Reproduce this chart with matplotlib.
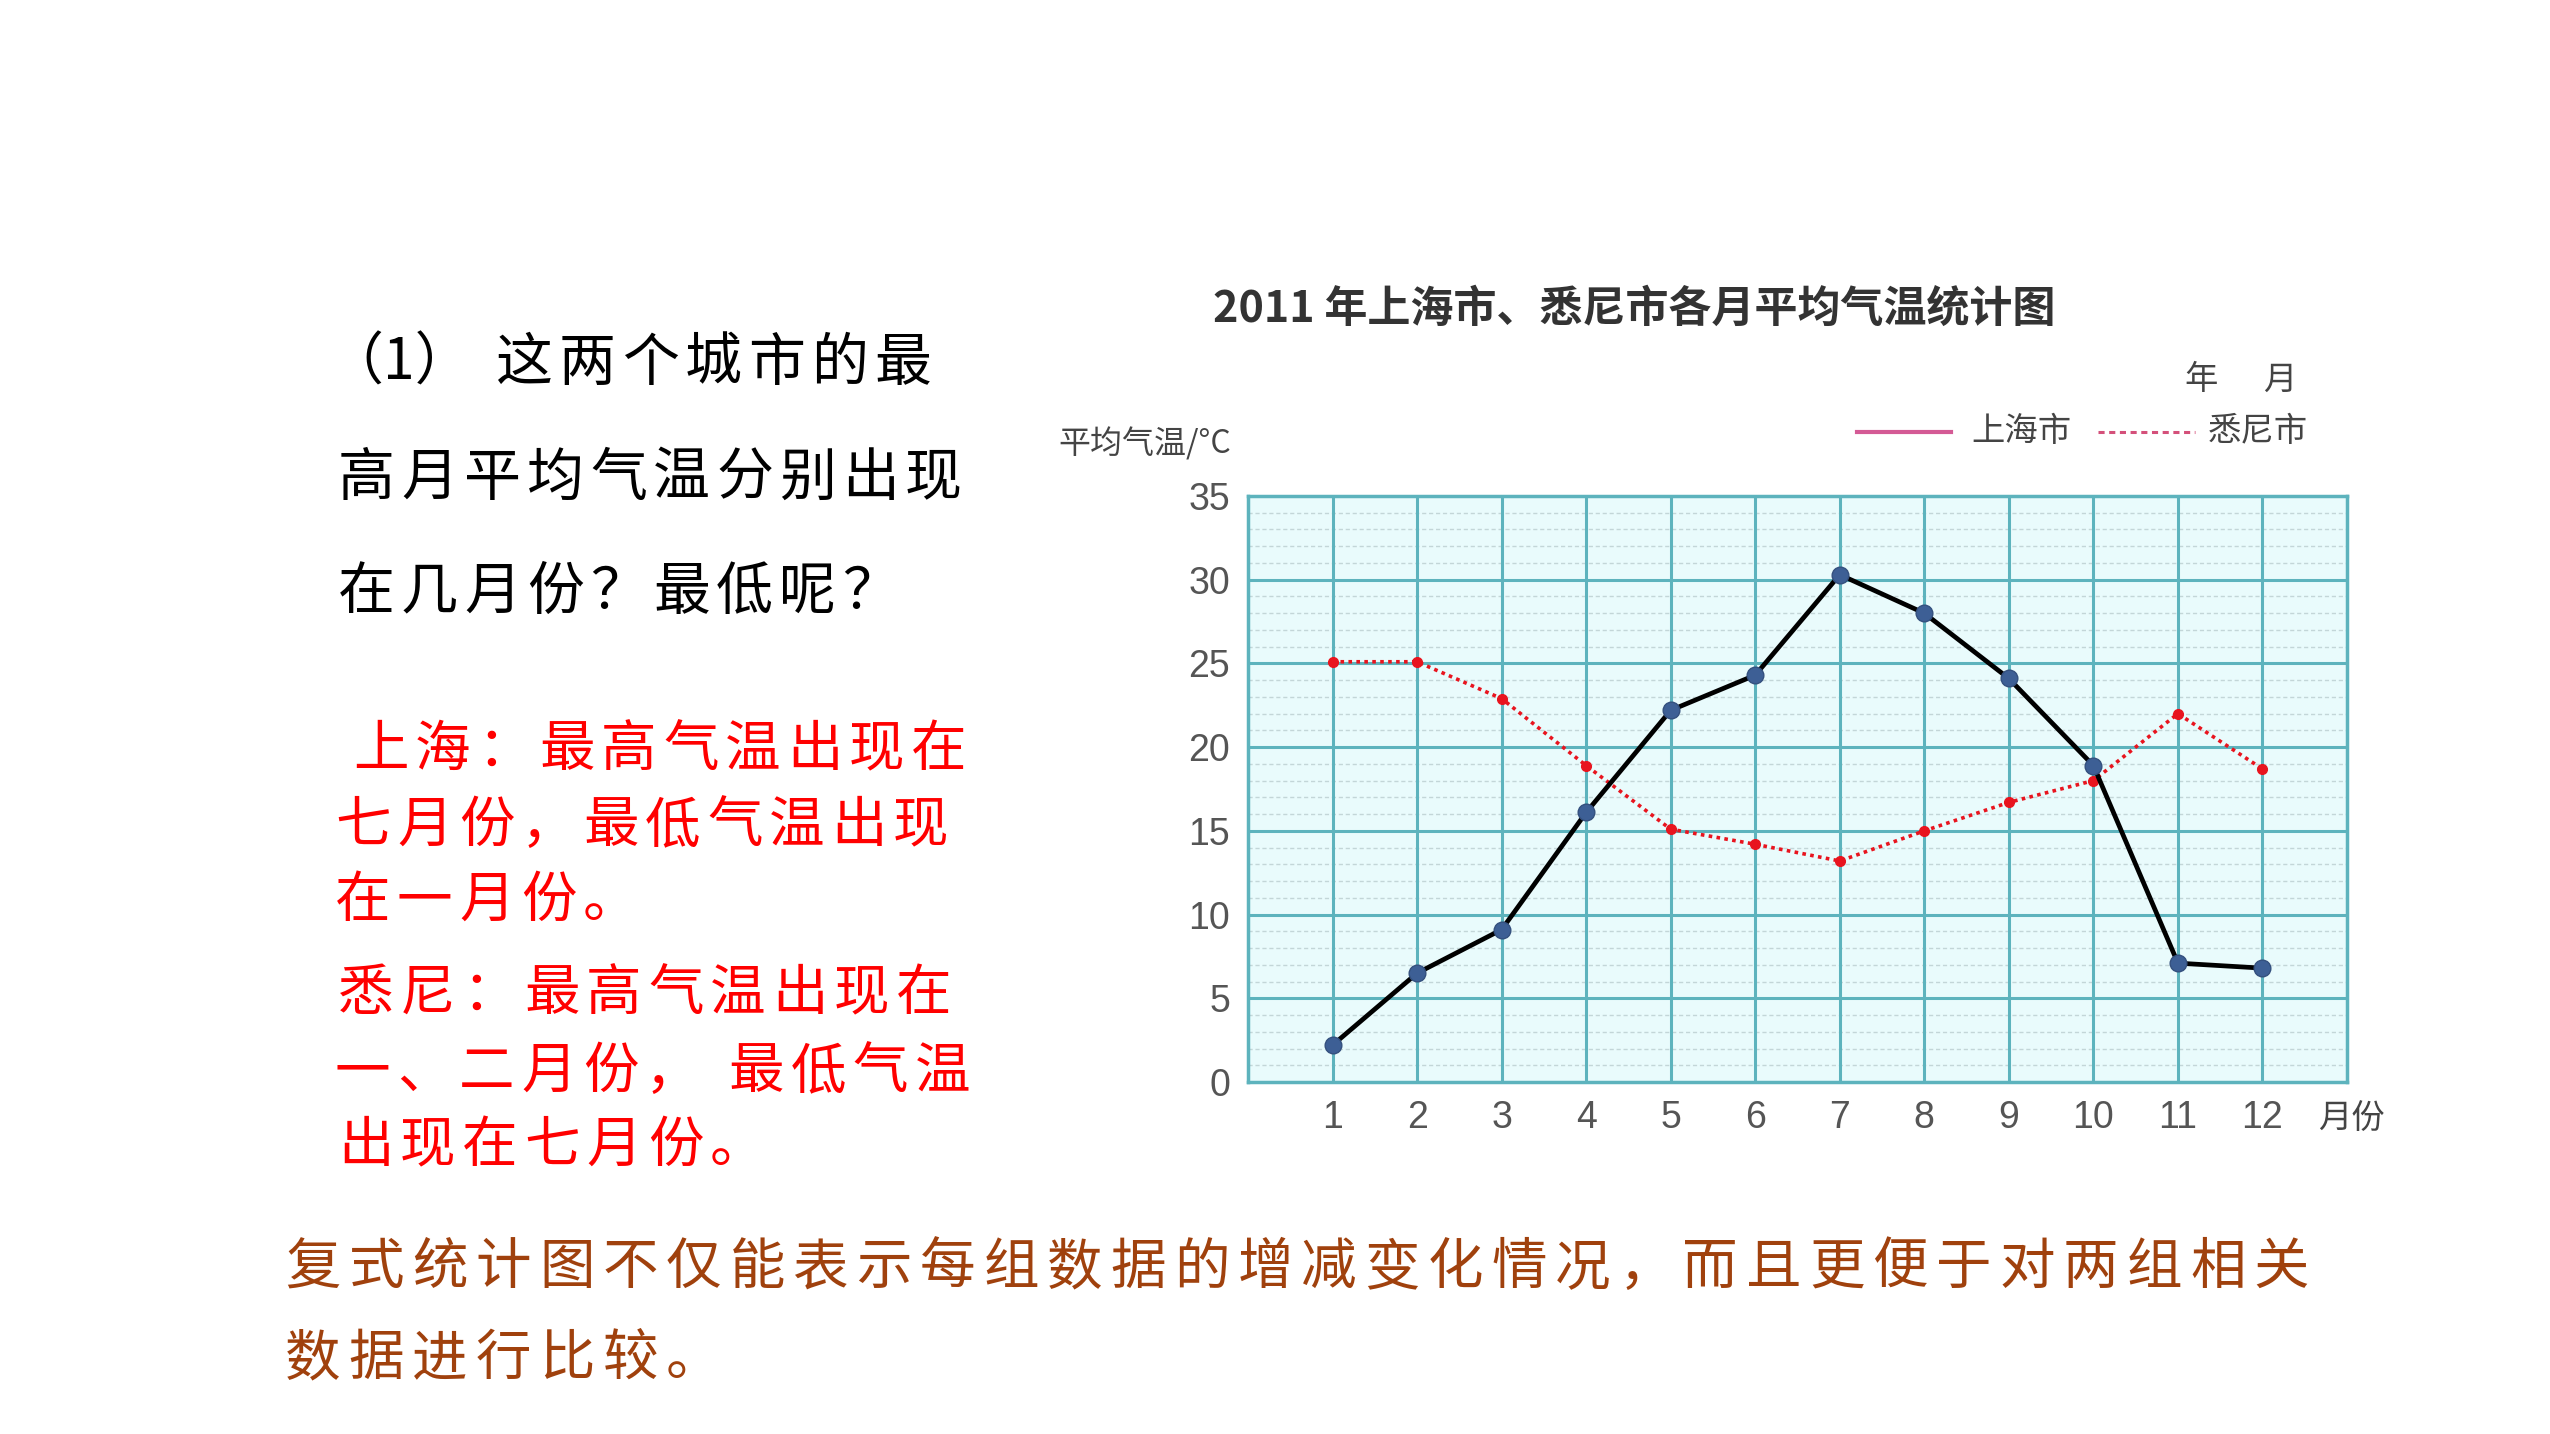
import matplotlib
matplotlib.use("Agg")
import matplotlib.pyplot as plt
from matplotlib.lines import Line2D

plt.rcParams['font.family'] = ['Noto Sans CJK SC', 'DejaVu Sans']

W, H = 2550, 1434

# data
months = list(range(1, 13))
shanghai = [2.2, 6.5, 9.1, 16.1, 22.2, 24.3, 30.3, 28.0, 24.1, 18.9, 7.1, 6.8]
sydney = [25.1, 25.1, 22.9, 18.9, 15.1, 14.2, 13.2, 15.0, 16.7, 18.0, 22.0, 18.7]
yticks = [0, 5, 10, 15, 20, 25, 30, 35]

title = "2011 年上海市、悉尼市各月平均气温统计图"
question = ["这两个城市的最", "高月平均气温分别出现", "在几月份？最低呢？"]
answer = ["上海：最高气温出现在", "七月份，最低气温出现", "在一月份。",
          "悉尼：最高气温出现在", "一、二月份， 最低气温", "出现在七月份。"]
summary = ["复式统计图不仅能表示每组数据的增减变化情况，而且更便于对两组相关",
           "数据进行比较。"]

fig = plt.figure(figsize=(W / 100, H / 100), dpi=100)


def put_line(x, yc, text, color, size=41, pitch=63):
    # place characters one by one to get the wide letter spacing
    base = yc + 0.38 * size / 0.72
    for ch in text:
        if ch == ' ':
            x += pitch * 0.35
            continue
        fig.text(x / W, 1 - base / H, ch, ha='left', va='baseline',
                 fontsize=size, color=color)
        x += pitch


# left question text
fig.text(326 / W, 1 - (358 + 0.38 * 41 / 0.72) / H, "（1）", ha='left',
         va='baseline', fontsize=41, color='black')
put_line(496, 358, question[0], 'black')
put_line(338, 473, question[1], 'black')
put_line(338, 587, question[2], 'black')

# red answers
ans_pos = [(353, 745), (335, 821), (335, 896), (338, 989), (335, 1067), (338, 1141)]
for (x, y), line in zip(ans_pos, answer):
    put_line(x, y, line, '#ff0000', size=40, pitch=62)

# bottom summary
put_line(285, 1263, summary[0], '#a0410d', size=40, pitch=63.5)
put_line(285, 1354, summary[1], '#a0410d', size=40, pitch=63.5)

# chart
ax = fig.add_axes([1248 / W, 1 - 1082 / H, 1099 / W, 586 / H])
ax.set_facecolor('#e9fbfc')
ax.set_xlim(0, 13)
ax.set_ylim(0, 35)

grid_c = '#5db3bd'
for v in range(1, 13):
    ax.axvline(v, color=grid_c, lw=2.2, zorder=1)
for v in yticks[1:-1]:
    ax.axhline(v, color=grid_c, lw=2.2, zorder=1)
for v in range(1, 35):
    if v % 5:
        ax.axhline(v, color='#c3d6d8', lw=1.0, ls=(0, (3, 2)), zorder=0.5)
for s in ax.spines.values():
    s.set_color(grid_c)
    s.set_linewidth(2.5)

ax.plot(months, sydney, color='#e8141e', lw=2.6, ls=(0, (1, 1.2)),
        marker='o', ms=7, mfc='#e8141e', mec='#e8141e', zorder=3)
ax.plot(months, shanghai, color='black', lw=3.4,
        marker='o', ms=12, mfc='#3d5f95', mec='#34507e', zorder=4)

ax.set_xticks(months)
ax.set_xticklabels([str(m) for m in months])
ax.set_yticks(yticks)
ax.tick_params(length=0, labelsize=27, labelcolor='#555555', pad=13)
for lab in ax.get_xticklabels() + ax.get_yticklabels():
    lab.set_family(['Liberation Sans', 'DejaVu Sans'])

fig.text(2318 / W, 1 - 1118 / H, "月份", ha='left', va='center',
         fontsize=24, color='#444444')
fig.text(1231 / W, 1 - 444 / H, "平均气温/°C", ha='right', va='center',
         fontsize=23, color='#444444')

# title and header
fig.text(1634 / W, 1 - 309 / H, title, ha='center', va='center',
         fontsize=31, fontweight='bold', color='#333333')
fig.text(2184 / W, 1 - 380 / H, "年", ha='left', va='center',
         fontsize=24, color='#444444')
fig.text(2263 / W, 1 - 380 / H, "月", ha='left', va='center',
         fontsize=24, color='#444444')

# hand drawn legend
fig.add_artist(Line2D([1857 / W, 1951 / W], [1 - 432 / H, 1 - 432 / H],
                      color='#d45a95', lw=3))
fig.text(1971 / W, 1 - 432 / H, "上海市", ha='left', va='center',
         fontsize=24, color='#444444')
fig.add_artist(Line2D([2098 / W, 2195 / W], [1 - 432 / H, 1 - 432 / H],
                      color='#d4507a', lw=2.2, ls=(0, (2, 1.5))))
fig.text(2208 / W, 1 - 432 / H, "悉尼市", ha='left', va='center',
         fontsize=24, color='#444444')

fig.savefig('out.png', dpi=100, facecolor='white')
